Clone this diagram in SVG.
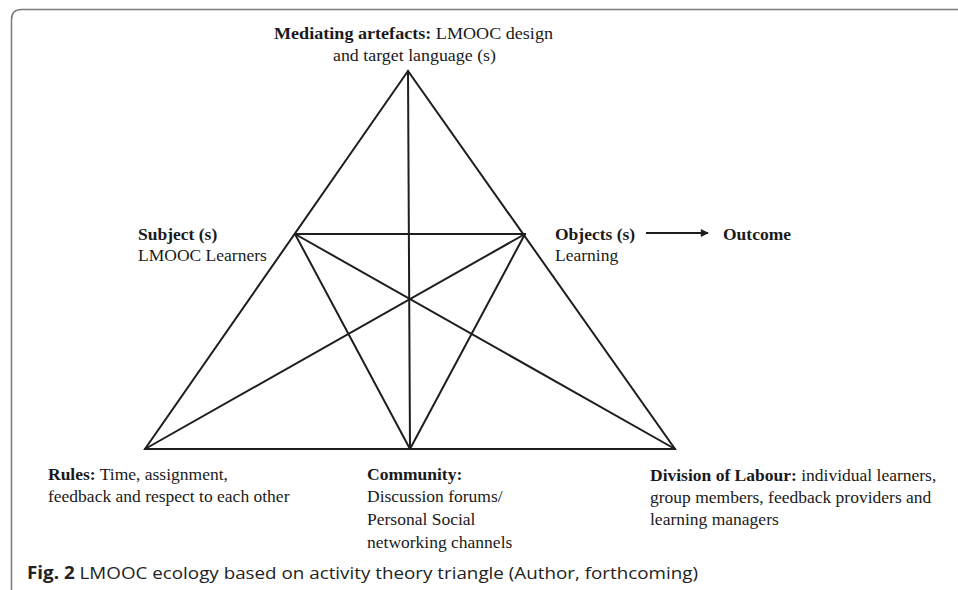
<svg xmlns="http://www.w3.org/2000/svg" width="958" height="590" viewBox="0 0 958 590">
<defs>
<style>
.ln{stroke:#1e1e1e;stroke-width:2;fill:none;stroke-linecap:round}
.t{font-family:"Liberation Serif","Times New Roman",serif;font-size:17.5px;fill:#1a1a1a}
.b{font-weight:bold}
.cap{font-family:"Open Sans","Noto Sans",sans-serif;font-size:17px;fill:#222}
</style>
<marker id="ah" viewBox="0 0 10 10" refX="9" refY="5" markerWidth="11" markerHeight="8" markerUnits="userSpaceOnUse" orient="auto">
<path d="M0,0 L10,5 L0,10 z" fill="#1e1e1e"/>
</marker>
</defs>
<rect width="958" height="590" fill="#fff"/>
<path d="M11.5 590 V19.5 Q11.5 9.5 21.5 9.5 H958" fill="none" stroke="#7a7a7a" stroke-width="1.5"/>
<g id="connectors">
<polygon class="ln" points="408,71 145,449 675,449"/>
<line class="ln" x1="295" y1="234" x2="525" y2="234"/>
<line class="ln" x1="408" y1="71" x2="410" y2="449"/>
<line class="ln" x1="295" y1="234" x2="675" y2="449"/>
<line class="ln" x1="525" y1="234" x2="145" y2="449"/>
<line class="ln" x1="295" y1="234" x2="410" y2="449"/>
<line class="ln" x1="525" y1="234" x2="410" y2="449"/>
<line x1="646" y1="233" x2="708" y2="233" stroke="#1e1e1e" stroke-width="2" marker-end="url(#ah)"/>
</g>
<g id="mediating">
<text class="t" x="274" y="39" textLength="279" lengthAdjust="spacingAndGlyphs"><tspan class="b">Mediating artefacts:</tspan> LMOOC design</text>
<text class="t" x="333" y="61" textLength="163" lengthAdjust="spacingAndGlyphs">and target language (s)</text>
</g>
<g id="subject">
<text class="t b" x="138" y="240">Subject (s)</text>
<text class="t" x="138" y="261">LMOOC Learners</text>
</g>
<g id="object">
<text class="t b" x="555" y="240">Objects (s)</text>
<text class="t" x="555" y="261">Learning</text>
</g>
<g id="outcome">
<text class="t b" x="723" y="240">Outcome</text>
</g>
<g id="rules">
<text class="t" x="48" y="480"><tspan class="b">Rules:</tspan> Time, assignment,</text>
<text class="t" x="48" y="502">feedback and respect to each other</text>
</g>
<g id="community">
<text class="t b" x="367" y="480">Community:</text>
<text class="t" x="367" y="502">Discussion forums/</text>
<text class="t" x="367" y="525">Personal Social</text>
<text class="t" x="367" y="548">networking channels</text>
</g>
<g id="division">
<text class="t" x="650" y="481"><tspan class="b">Division of Labour:</tspan> individual learners,</text>
<text class="t" x="650" y="503">group members, feedback providers and</text>
<text class="t" x="650" y="525">learning managers</text>
</g>
<text class="cap" x="27" y="579" textLength="671" lengthAdjust="spacingAndGlyphs"><tspan font-weight="bold">Fig. 2</tspan>  LMOOC ecology based on activity theory triangle (Author, forthcoming)</text>
</svg>
